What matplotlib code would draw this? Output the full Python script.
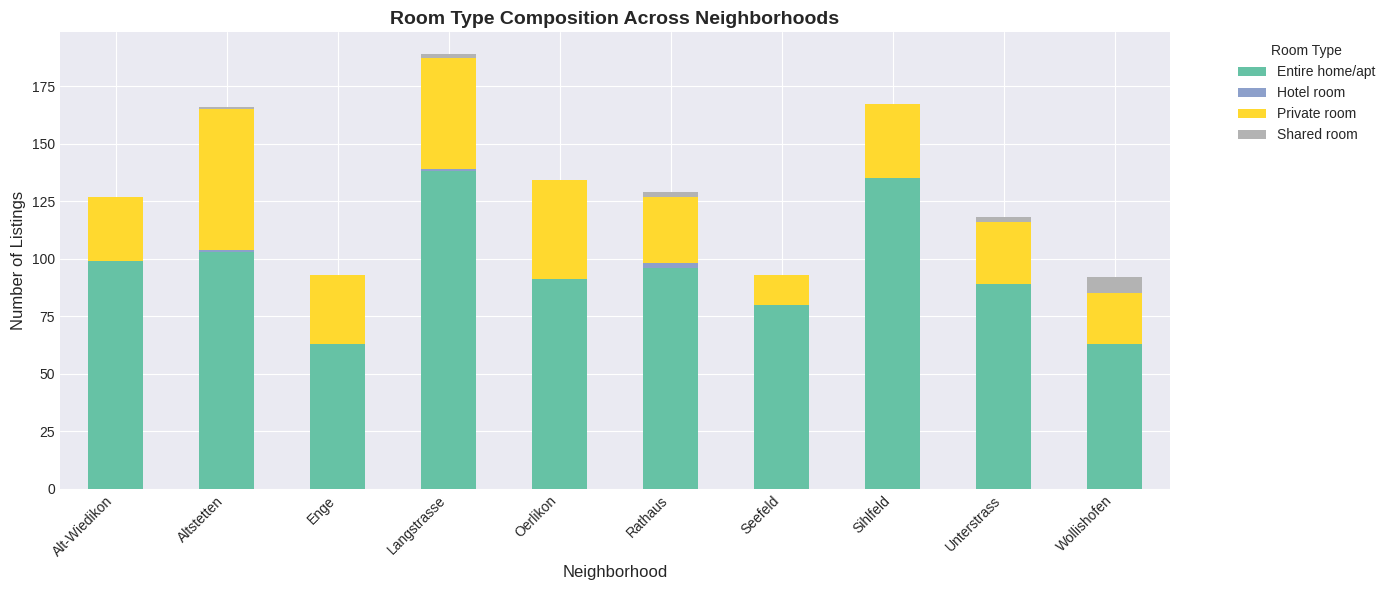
import matplotlib
matplotlib.use("Agg")
import matplotlib.pyplot as plt
import numpy as np

plt.style.use("seaborn-v0_8-darkgrid")

neighborhoods = ["Alt-Wiedikon", "Altstetten", "Enge", "Langstrasse", "Oerlikon",
                 "Rathaus", "Seefeld", "Sihlfeld", "Unterstrass", "Wollishofen"]
room_types = ["Entire home/apt", "Hotel room", "Private room", "Shared room"]
entire = [99, 103, 63, 138, 91, 96, 80, 135, 89, 63]
hotel = [0, 1, 0, 1, 0, 2, 0, 0, 0, 0]
private = [28, 61, 30, 48, 43, 29, 13, 32, 27, 22]
shared = [0, 1, 0, 2, 0, 2, 0, 0, 2, 7]
colors = ["#66c2a5", "#8da0cb", "#ffd92f", "#b3b3b3"]

fig, ax = plt.subplots(figsize=(13.91, 5.9), dpi=100)
x = np.arange(len(neighborhoods))
bottom = np.zeros(len(neighborhoods))
for name, vals, c in zip(room_types, [entire, hotel, private, shared], colors):
    ax.bar(x, vals, width=0.5, bottom=bottom, color=c, label=name)
    bottom += np.array(vals)

ax.set_xlim(-0.5, len(neighborhoods) - 0.5)
ax.set_xticks(x)
ax.set_xticklabels(neighborhoods, rotation=45, ha="right")
ax.set_title("Room Type Composition Across Neighborhoods", fontsize=14, fontweight="bold")
ax.set_xlabel("Neighborhood", fontsize=12)
ax.set_ylabel("Number of Listings", fontsize=12)
ax.legend(title="Room Type", bbox_to_anchor=(1.05, 1), loc="upper left")
fig.subplots_adjust(left=60/1391, right=1170/1391, bottom=1-489/590, top=1-32/590)
fig.savefig("out.png", dpi=100)
